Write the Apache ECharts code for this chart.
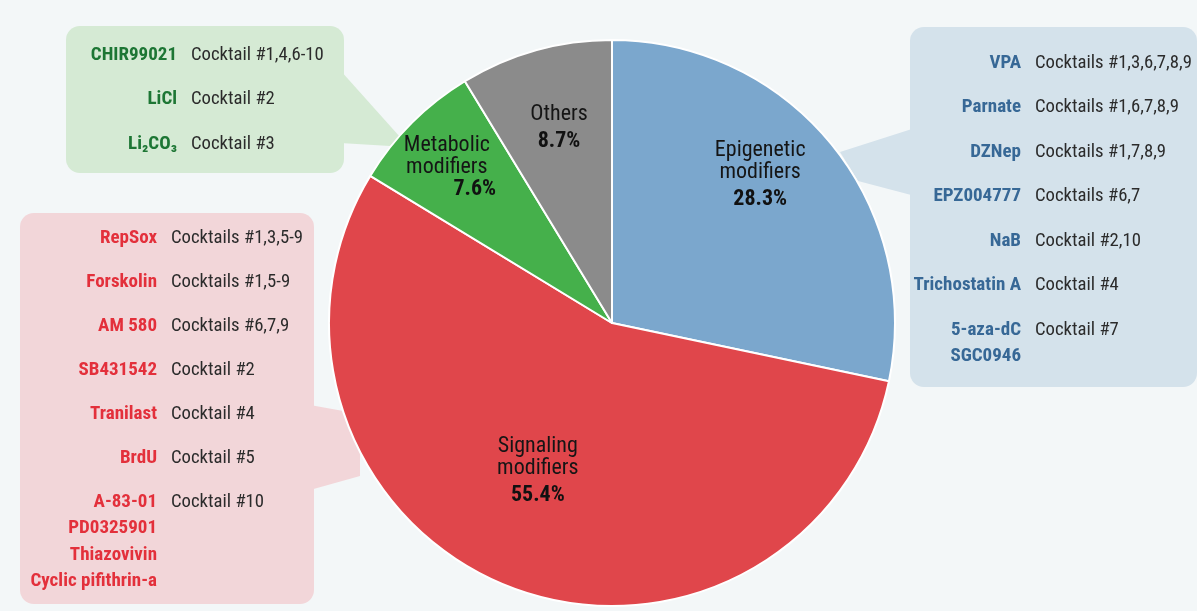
<!DOCTYPE html>
<html>
<head>
<meta charset="utf-8">
<script src="https://cdn.jsdelivr.net/npm/echarts@6/dist/echarts.min.js"></script>
<style>
  html, body { margin: 0; padding: 0; background: #f3f7f8; }
  #chart { width: 1197px; height: 611px; }
</style>
</head>
<body>
<div id="chart"></div>
<script>
// Share of small-molecule classes used in chemical reprogramming cocktails
const categories = ['Epigenetic modifiers', 'Signaling modifiers', 'Metabolic modifiers', 'Others'];
const shares = [28.3, 55.4, 7.6, 8.7];

// Compounds per class and the cocktails that use them
const epigeneticCompounds = [['VPA'], ['Parnate'], ['DZNep'], ['EPZ004777'], ['NaB'], ['Trichostatin A'], ['5-aza-dC', 'SGC0946']];
const epigeneticCocktails = ['Cocktails #1,3,6,7,8,9', 'Cocktails #1,6,7,8,9', 'Cocktails #1,7,8,9', 'Cocktails #6,7', 'Cocktail #2,10', 'Cocktail #4', 'Cocktail #7'];

const signalingCompounds = [['RepSox'], ['Forskolin'], ['AM 580'], ['SB431542'], ['Tranilast'], ['BrdU'], ['A-83-01', 'PD0325901', 'Thiazovivin', 'Cyclic pifithrin-a']];
const signalingCocktails = ['Cocktails #1,3,5-9', 'Cocktails #1,5-9', 'Cocktails #6,7,9', 'Cocktail #2', 'Cocktail #4', 'Cocktail #5', 'Cocktail #10'];

const metabolicCompounds = [['CHIR99021'], ['LiCl'], ['Li\u2082CO\u2083']];
const metabolicCocktails = ['Cocktail #1,4,6-10', 'Cocktail #2', 'Cocktail #3'];

const FONT = '"Roboto Condensed", Roboto, sans-serif';
const sliceColors = ['#7ba7cd', '#e0464b', '#45b04b', '#8b8b8b'];
// nudges that move each in-slice label toward the outer part of its wedge
const labelNudge = [[36, -54], [-21, 16], [-63, -53], [-14, -53]];

const chart = echarts.init(document.getElementById('chart'), null, { renderer: 'canvas' });

// one callout panel: rounded box + pointer wedge + two text columns
function callout(cfg) {
  const els = [];
  els.push({
    type: 'polygon', z: 0,
    shape: { points: cfg.pointer },
    style: { fill: cfg.fill }
  });
  els.push({
    type: 'rect', z: 0,
    shape: { x: cfg.box[0], y: cfg.box[1], width: cfg.box[2], height: cfg.box[3], r: 14 },
    style: { fill: cfg.fill }
  });
  cfg.compounds.forEach((names, i) => {
    const y0 = cfg.top + i * cfg.pitch;
    names.forEach((nm, j) => {
      els.push({
        type: 'text', z: 5,
        x: cfg.nameX, y: y0 + j * 26.5,
        style: {
          text: nm, fill: cfg.nameColor, font: 'bold 19px ' + FONT,
          align: 'right', verticalAlign: 'middle'
        }
      });
    });
    els.push({
      type: 'text', z: 5,
      x: cfg.nameX + 14, y: y0,
      style: {
        text: cfg.cocktails[i], fill: '#2b2b2b', font: '18.7px ' + FONT,
        align: 'left', verticalAlign: 'middle'
      }
    });
  });
  return els;
}

const graphics = [].concat(
  callout({
    fill: '#d5ead4', box: [66, 26, 278, 147],
    pointer: [[340, 70], [400, 137], [390, 146], [340, 143]],
    compounds: metabolicCompounds, cocktails: metabolicCocktails,
    top: 55, pitch: 44.5, nameX: 177, nameColor: '#1d7634'
  }),
  callout({
    fill: '#f2d6d9', box: [20, 213, 294, 391],
    pointer: [[310, 405], [360, 414], [360, 476], [310, 490]],
    compounds: signalingCompounds, cocktails: signalingCocktails,
    top: 238, pitch: 44, nameX: 157, nameColor: '#e3303b'
  }),
  callout({
    fill: '#d4e2eb', box: [910, 27, 287, 360],
    pointer: [[915, 128], [840, 152], [858, 181], [915, 196]],
    compounds: epigeneticCompounds, cocktails: epigeneticCocktails,
    top: 63, pitch: 44.5, nameX: 1021, nameColor: '#376896'
  })
);

const pieData = categories.map((name, i) => ({
  name: name,
  value: shares[i],
  itemStyle: { color: sliceColors[i] },
  label: { offset: labelNudge[i] }
}));

chart.setOption({
  backgroundColor: '#f3f7f8',
  animation: false,
  graphic: { elements: graphics },
  series: [{
    type: 'pie',
    z: 2,
    center: [612, 323],
    radius: 283,
    startAngle: 90,
    clockwise: true,
    avoidLabelOverlap: false,
    itemStyle: { borderColor: '#ffffff', borderWidth: 2 },
    label: {
      show: true,
      position: 'inside',
      formatter: p => '{n|' + p.name.replace(' ', '\n') + '}\n{' +
        (p.dataIndex === 2 ? 'pr' : 'p') + '|' + p.value.toFixed(1) + '%}',
      rich: {
        n: { fontSize: 22, lineHeight: 22, color: '#151515', fontFamily: FONT, align: 'center' },
        p: { fontSize: 22, lineHeight: 32, color: '#111111', fontWeight: 'bold', fontFamily: FONT, align: 'center' },
        pr: { fontSize: 22, lineHeight: 22, color: '#111111', fontWeight: 'bold', fontFamily: FONT, align: 'center', padding: [0, 0, 0, 56] }
      }
    },
    labelLine: { show: false },
    emphasis: { disabled: true },
    data: pieData
  }]
});
</script>
</body>
</html>
